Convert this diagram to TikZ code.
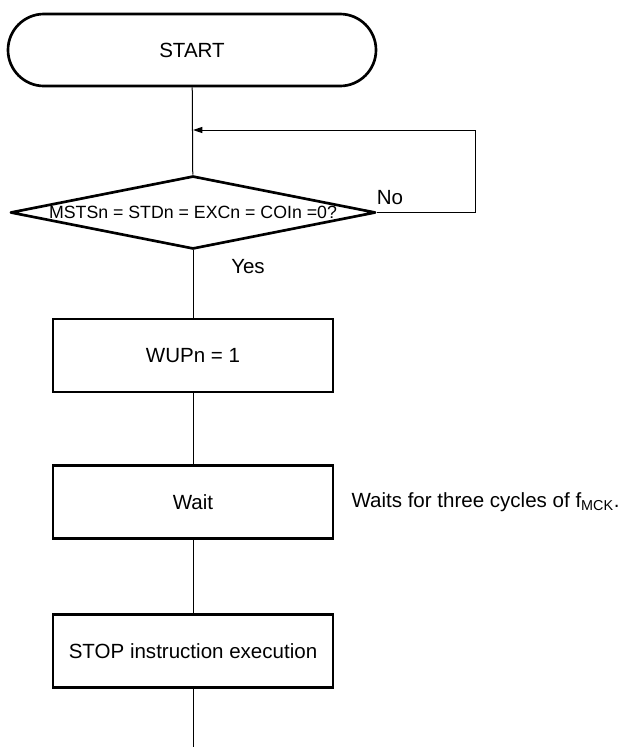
\documentclass[tikz,border=0pt]{standalone}
\usepackage{fontspec}
\setmainfont{Liberation Sans}
\setsansfont{Liberation Sans}
\usetikzlibrary{arrows.meta, shapes.geometric}
\definecolor{cblack}{HTML}{000000}
\tikzset{
  every picture/.style={font=\sffamily\fontsize{15.4}{18}\selectfont, line width=0.75pt},
  term/.style={draw=cblack, line width=2pt, rounded corners=27pt, minimum width=276pt, minimum height=54pt, inner sep=0pt},
  decision/.style={draw=cblack, diamond, line width=2pt, line join=round, minimum width=274pt, minimum height=54.75pt, inner sep=0pt, font=\sffamily\fontsize{13.3}{16}\selectfont},
  process/.style={draw=cblack, line width=2pt, minimum width=210pt, minimum height=54.75pt, inner sep=0pt},
  flow/.style={draw=cblack, line width=0.75pt},
  arrow/.style={flow, -{Triangle[length=7pt, width=4.5pt]}},
  label/.style={inner sep=0pt},
}

\begin{document}
\begin{tikzpicture}[x=0.75pt, y=-0.75pt]
  % frame: 625 x 747 px
  \useasboundingbox (0,0) rectangle (625,747);
  % steps
  \node[term] (start) at (192,50) {START};
  \node[decision] (check) at (193,212.5) {\makebox[0pt]{MSTSn = STDn = EXCn = COIn =0?}};
  \node[process] (wup) at (193,355.5) {WUPn = 1};
  \node[process] (wait) at (193,502) {Wait};
  \node[process] (stop) at (193,651) {STOP instruction execution};
  % loop back
  \coordinate (merge) at (193,130);
  \coordinate (loop) at (475,212.5);
  \coordinate (end) at (193,747);
  \draw[flow] (start) -- (check);
  \draw[arrow] (check.east) -- (loop) |- (merge);
  \draw[flow] (check) -- (wup);
  \draw[flow] (wup) -- (wait);
  \draw[flow] (wait) -- (stop);
  \draw[flow] (stop) -- (end);
  % labels
  \node[label] (no) at (390,198) {No};
  \node[label] (yes) at (248,267) {Yes};
  \node[label, anchor=west] (note) at (351,502) {Waits for three cycles of f\textsubscript{MCK}.};
\end{tikzpicture}
\end{document}
